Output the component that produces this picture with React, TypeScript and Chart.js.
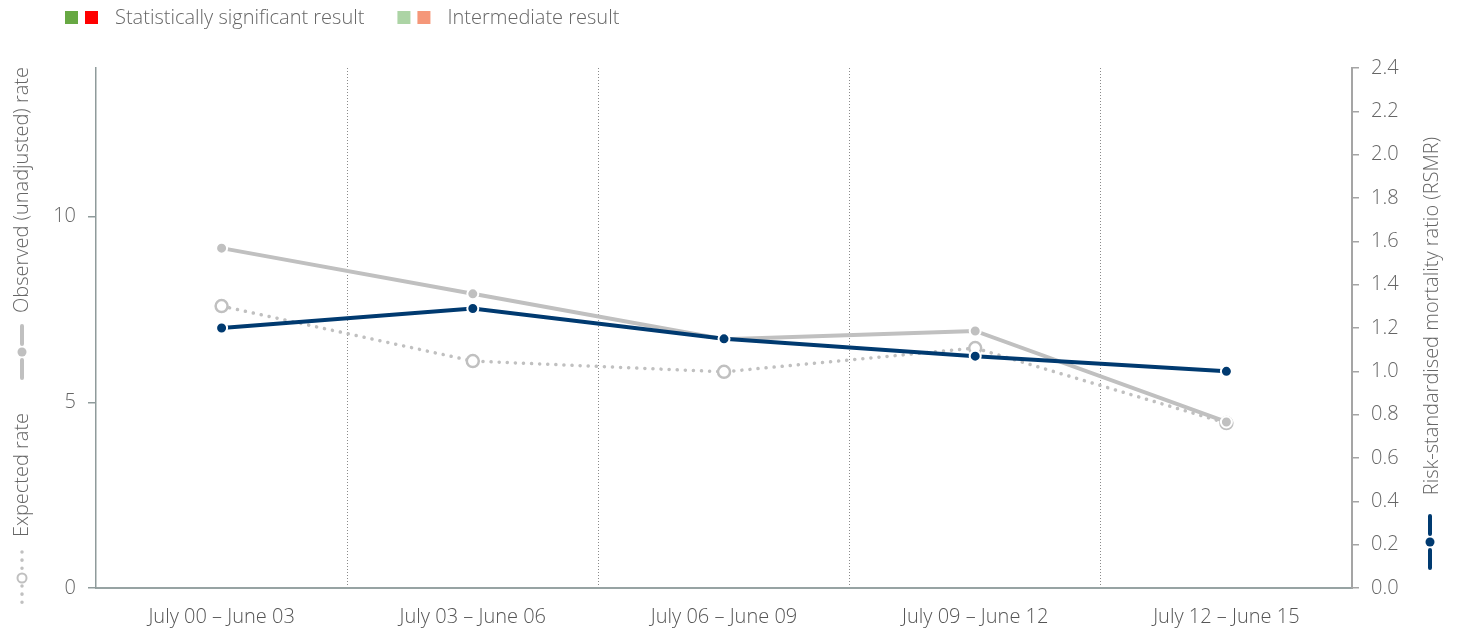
import React, { useEffect, useRef } from "react";
import { Chart, registerables } from "chart.js";

Chart.register(...registerables);

const categories = [
  "July 00 – June 03",
  "July 03 – June 06",
  "July 06 – June 09",
  "July 09 – June 12",
  "July 12 – June 15",
];
const observedRate = [9.15, 7.92, 6.7, 6.92, 4.47];
const expectedRate = [7.59, 6.11, 5.82, 6.46, 4.44];
const rsmr = [1.2, 1.29, 1.15, 1.07, 1.0];

const leftMin = 0;
const leftMax = 14;
const leftStep = 5;
const rightMin = 0;
const rightMax = 2.4;
const rightStep = 0.2;

const legendItems = [
  { label: "Statistically significant result", colors: ["#67a843", "#ff0000"] },
  { label: "Intermediate result", colors: ["#acd4a5", "#f59779"] },
];

const NAVY = "#003a70";
const GRAY = "#c0c0c0";
const TEXT = "#666666";
const FONT = "'Open Sans', sans-serif";
const WEIGHT = "300";

const decorPlugin = {
  id: "decor",
  afterDraw(chart: any) {
    const ctx = chart.ctx as CanvasRenderingContext2D;
    ctx.save();
    // top legend
    ctx.font = `${WEIGHT} 20px ${FONT}`;
    ctx.textBaseline = "middle";
    let x = 65;
    for (const item of legendItems) {
      item.colors.forEach((c, i) => {
        ctx.fillStyle = c;
        ctx.fillRect(x + i * 20, 11, 13, 13);
      });
      x += 50;
      ctx.fillStyle = TEXT;
      ctx.fillText(item.label, x, 18);
      x += ctx.measureText(item.label).width + 33;
    }

    const rotText = (t: string, cx: number, cy: number) => {
      ctx.save();
      ctx.translate(cx, cy);
      ctx.rotate(-Math.PI / 2);
      ctx.textAlign = "center";
      ctx.textBaseline = "middle";
      ctx.fillStyle = TEXT;
      ctx.font = `${WEIGHT} 20px ${FONT}`;
      ctx.fillText(t, 0, 0);
      ctx.restore();
    };

    const icon = (
      cx: number,
      cy: number,
      color: string,
      dotted: boolean,
      open: boolean
    ) => {
      ctx.save();
      ctx.strokeStyle = color;
      ctx.lineWidth = dotted ? 3.5 : 4;
      ctx.lineCap = "round";
      if (dotted) ctx.setLineDash([0.1, 8]);
      ctx.beginPath();
      ctx.moveTo(cx, cy - 26);
      ctx.lineTo(cx, cy - 8);
      ctx.moveTo(cx, cy + 8);
      ctx.lineTo(cx, cy + 26);
      ctx.stroke();
      ctx.setLineDash([]);
      ctx.beginPath();
      ctx.arc(cx, cy, 4.5, 0, Math.PI * 2);
      if (open) {
        ctx.fillStyle = "#fff";
        ctx.fill();
        ctx.lineWidth = 2;
        ctx.stroke();
      } else {
        ctx.fillStyle = color;
        ctx.fill();
      }
      ctx.restore();
    };

    // left axis title
    rotText("Observed (unadjusted) rate", 22, 190);
    icon(22, 352, GRAY, false, false);
    rotText("Expected rate", 22, 475);
    icon(22, 578, GRAY, true, true);

    // right axis title
    rotText("Risk-standardised mortality ratio (RSMR)", 1432, 316);
    icon(1430, 542, NAVY, false, false);

    ctx.restore();
  },
};

export default function App() {
  const ref = useRef<HTMLCanvasElement>(null);

  useEffect(() => {
    if (!ref.current) return;
    const chart = new Chart(ref.current, {
      type: "line",
      data: {
        labels: categories,
        datasets: [
          {
            label: "RSMR",
            data: rsmr,
            yAxisID: "y1",
            borderColor: NAVY,
            backgroundColor: NAVY,
            borderWidth: 4,
            pointRadius: 5.5,
            pointBackgroundColor: NAVY,
            pointBorderColor: "#ffffff",
            pointBorderWidth: 2,
            tension: 0,
            order: 0,
          },
          {
            label: "Observed (unadjusted) rate",
            data: observedRate,
            yAxisID: "y",
            borderColor: GRAY,
            backgroundColor: GRAY,
            borderWidth: 4,
            pointRadius: 5.5,
            pointBackgroundColor: GRAY,
            pointBorderColor: "#ffffff",
            pointBorderWidth: 2,
            tension: 0,
            order: 1,
          },
          {
            label: "Expected rate",
            data: expectedRate,
            yAxisID: "y",
            borderColor: GRAY,
            backgroundColor: "#ffffff",
            borderWidth: 3.5,
            borderDash: [0.1, 8],
            borderCapStyle: "round",
            pointRadius: 6,
            pointBackgroundColor: "#ffffff",
            pointBorderColor: GRAY,
            pointBorderWidth: 2.5,
            tension: 0,
            order: 2,
          },
        ],
      },
      options: {
        responsive: false,
        animation: false,
        layout: { padding: { top: 68, left: 0, right: 0, bottom: 0 } },
        plugins: {
          legend: { display: false },
          tooltip: { enabled: false },
        },
        scales: {
          x: {
            type: "category",
            offset: true,
            afterFit: (s: any) => {
              s.height = 42;
            },
            grid: {
              offset: true,
              drawTicks: false,
              lineWidth: 1,
              color: (c: any) =>
                c.index === 0 || c.index === categories.length ? "rgba(0,0,0,0)" : "#8a8a8a",
            },
            border: { display: true, color: "#97a3a3", width: 2, dash: [1, 2] },
            ticks: {
              color: "#555",
              padding: 17,
              font: { family: FONT, size: 20, weight: WEIGHT },
            },
          },
          y: {
            position: "left",
            min: leftMin,
            max: leftMax,
            afterFit: (s: any) => {
              s.width = 96;
            },
            grid: {
              drawOnChartArea: false,
              drawTicks: true,
              tickLength: 8,
              color: "#8f9b9b",
              lineWidth: 1.5,
            },
            border: { display: true, color: "#8f9b9b", width: 1.5 },
            ticks: {
              stepSize: leftStep,
              includeBounds: false,
              color: TEXT,
              padding: 12,
              font: { family: FONT, size: 20, weight: WEIGHT },
            },
          },
          y1: {
            position: "right",
            min: rightMin,
            max: rightMax,
            afterFit: (s: any) => {
              s.width = 105;
            },
            grid: {
              drawOnChartArea: false,
              drawTicks: true,
              tickLength: 7,
              color: "#a5a5a5",
              lineWidth: 1.5,
            },
            border: { display: true, color: "#a5a5a5", width: 2 },
            ticks: {
              stepSize: rightStep,
              color: TEXT,
              padding: 12,
              font: { family: FONT, size: 20, weight: WEIGHT },
              callback: (v: any) => Number(v).toFixed(1),
            },
          },
        },
      },
      plugins: [decorPlugin],
    } as any);
    return () => chart.destroy();
  }, []);

  return (
    <div style={{ position: "absolute", left: 0, top: 0, width: 1457, height: 630 }}>
      <canvas ref={ref} width={1457} height={630} style={{ display: "block" }} />
    </div>
  );
}
